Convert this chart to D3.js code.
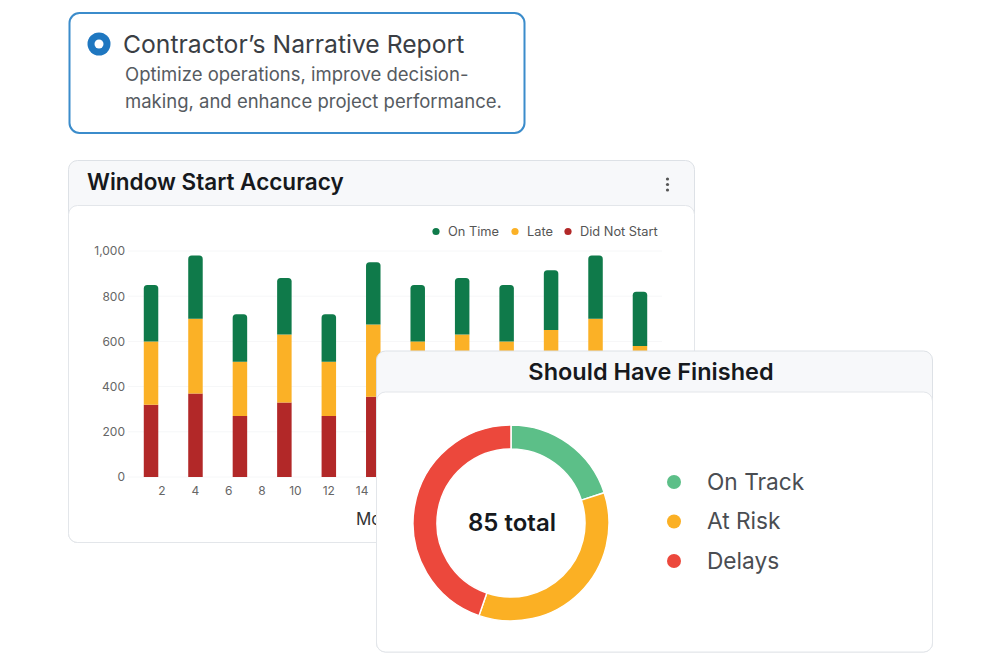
<!DOCTYPE html>
<html>
<head>
<meta charset="utf-8">
<script src="https://cdn.jsdelivr.net/npm/d3@7"></script>
<style>
  body { margin: 0; background: #fff; font-family: Inter, "Noto Sans", sans-serif; }
</style>
</head>
<body>
<div id="chart"></div>
<script>
// bar chart data (stacked, bottom to top: did not start, late, on time)
const months = [1, 2, 3, 4, 5, 6, 7, 8, 9, 10, 11, 12];
const didNotStart = [320, 370, 270, 330, 270, 355, 320, 330, 320, 345, 370, 310];
const late = [280, 330, 240, 300, 240, 320, 280, 300, 280, 305, 330, 270];
const onTime = [250, 280, 210, 250, 210, 275, 250, 250, 250, 265, 280, 240];
const seriesNames = ["Did Not Start", "Late", "On Time"];
const legendOrder = ["On Time", "Late", "Did Not Start"];
const yTicks = [0, 200, 400, 600, 800, 1000];
const xTicks = [2, 4, 6, 8, 10, 12, 14, 16, 18, 20, 22, 24, 26, 28, 30];

// donut data
const statusLabels = ["On Track", "At Risk", "Delays"];
const statusCounts = [17, 30, 38];

const barColors = { "On Time": "#0f7a4a", "Late": "#fbb126", "Did Not Start": "#b22828" };
const donutColors = ["#5cbf88", "#fbb024", "#ec483c"];

const width = 1000, height = 666;

const svg = d3.select("#chart")
  .append("svg")
  .attr("width", width)
  .attr("height", height)
  .style("display", "block");

svg.append("rect").attr("width", width).attr("height", height).attr("fill", "#fff");

// rect with only the top corners rounded
const topRounded = (x, y, w, h, r) => {
  r = Math.min(r, h, w / 2);
  return `M${x},${y + h}V${y + r}Q${x},${y} ${x + r},${y}H${x + w - r}Q${x + w},${y} ${x + w},${y + r}V${y + h}Z`;
};

// card with grey header + white body
function drawCard(x, y, w, h, headerH) {
  const g = svg.append("g");
  g.append("rect")
    .attr("x", x).attr("y", y).attr("width", w).attr("height", h)
    .attr("rx", 9)
    .attr("fill", "#f7f8fa")
    .attr("stroke", "#dde1e6");
  g.append("rect")
    .attr("x", x).attr("y", y + headerH).attr("width", w).attr("height", h - headerH)
    .attr("rx", 9)
    .attr("fill", "#fff")
    .attr("stroke", "#e3e6ea");
  return g;
}

// ---------- Window Start Accuracy ----------
const barCard = drawCard(68.5, 160.5, 626, 382, 45);

barCard.append("text")
  .attr("x", 87).attr("y", 190)
  .attr("font-size", 22.5).attr("font-weight", 600)
  .attr("fill", "#16191d")
  .text("Window Start Accuracy");

// kebab menu
barCard.selectAll(".kebab")
  .data([179, 184.5, 190])
  .join("circle")
  .attr("class", "kebab")
  .attr("cx", 667.5).attr("cy", (d) => d)
  .attr("r", 1.6)
  .attr("fill", "#555");

const y = d3.scaleLinear().domain([0, 1000]).range([477, 251]);
const xBand = d3.scaleBand().domain(months).range([128.8, 662.2])
  .paddingInner(0.674).paddingOuter(0.337);
const xLin = d3.scaleLinear().domain([0, 32]).range([128, 662]);

// grid
barCard.append("g")
  .selectAll("line")
  .data(yTicks)
  .join("line")
  .attr("x1", 128).attr("x2", 662)
  .attr("y1", (d) => y(d)).attr("y2", (d) => y(d))
  .attr("stroke", "#f6f7f8");

// y axis
const yAxis = barCard.append("g")
  .attr("transform", "translate(128,0)")
  .call(d3.axisLeft(y).tickValues(yTicks).tickFormat(d3.format(",")).tickSize(0).tickPadding(3));
yAxis.select(".domain").remove();
yAxis.selectAll("text").attr("font-size", 12).attr("fill", "#666").attr("font-family", "Inter, sans-serif");

// x axis
const xAxis = barCard.append("g")
  .attr("transform", "translate(0,484)")
  .call(d3.axisBottom(xLin).tickValues(xTicks).tickSize(0).tickPadding(2));
xAxis.select(".domain").remove();
xAxis.selectAll("text").attr("font-size", 12).attr("fill", "#666").attr("font-family", "Inter, sans-serif");

barCard.append("text")
  .attr("x", 356).attr("y", 525)
  .attr("font-size", 17).attr("fill", "#333")
  .text("Month");

// stacked bars
const table = months.map((m, i) => ({
  month: m,
  "Did Not Start": didNotStart[i],
  "Late": late[i],
  "On Time": onTime[i],
}));
const stacked = d3.stack().keys(seriesNames)(table);

stacked.forEach((layer, li) => {
  const isTop = li === stacked.length - 1;
  barCard.append("g")
    .selectAll("path")
    .data(layer)
    .join("path")
    .attr("fill", barColors[layer.key])
    .attr("d", (d) => {
      const x0 = xBand(d.data.month);
      const y0 = y(d[1]);
      const h = y(d[0]) - y(d[1]);
      return isTop
        ? topRounded(x0, y0, xBand.bandwidth(), h, 3.5)
        : `M${x0},${y0}h${xBand.bandwidth()}v${h}h${-xBand.bandwidth()}Z`;
    });
});

// legend
const legendX = [436, 515, 568];
const legend = barCard.append("g")
  .selectAll("g")
  .data(legendOrder)
  .join("g")
  .attr("transform", (d, i) => `translate(${legendX[i]},231.5)`);
legend.append("circle").attr("r", 3.6).attr("fill", (d) => barColors[d]);
legend.append("text")
  .attr("x", 12).attr("dy", "0.35em")
  .attr("font-size", 12.8).attr("fill", "#555")
  .text((d) => d);

// ---------- Should Have Finished ----------
const donutCard = drawCard(376.5, 351, 556, 301, 41);

donutCard.append("text")
  .attr("x", 651).attr("y", 379.5)
  .attr("text-anchor", "middle")
  .attr("font-size", 23.5).attr("font-weight", 600)
  .attr("fill", "#16191d")
  .text("Should Have Finished");

const pie = d3.pie().sort(null).value((d) => d);
const arc = d3.arc().innerRadius(74).outerRadius(98);

const donut = donutCard.append("g").attr("transform", "translate(511,523)");
donut.selectAll("path")
  .data(pie(statusCounts))
  .join("path")
  .attr("d", arc)
  .attr("fill", (d, i) => donutColors[i])
  .attr("stroke", "#fff")
  .attr("stroke-width", 1.5);

donut.append("text")
  .attr("x", 1)
  .attr("text-anchor", "middle").attr("dy", "0.35em")
  .attr("font-size", 24).attr("font-weight", 600)
  .attr("fill", "#16191d")
  .text(`${d3.sum(statusCounts)} total`);

const dLegend = donutCard.append("g")
  .selectAll("g")
  .data(statusLabels)
  .join("g")
  .attr("transform", (d, i) => `translate(674,${482 + i * 39.5})`);
dLegend.append("circle").attr("r", 7).attr("fill", (d, i) => donutColors[i]);
dLegend.append("text")
  .attr("x", 33).attr("dy", "0.35em")
  .attr("font-size", 22.7).attr("fill", "#4a4d52")
  .text((d) => d);

// ---------- Contractor's Narrative Report ----------
const reportCard = svg.append("g");
reportCard.append("rect")
  .attr("x", 69.5).attr("y", 13).attr("width", 455).attr("height", 120)
  .attr("rx", 10)
  .attr("fill", "#fff")
  .attr("stroke", "#3b8ccb")
  .attr("stroke-width", 2);
reportCard.append("circle").attr("cx", 99).attr("cy", 44).attr("r", 11.5).attr("fill", "#1f77c0");
reportCard.append("circle").attr("cx", 99).attr("cy", 44).attr("r", 4.5).attr("fill", "#fff");
reportCard.append("text")
  .attr("x", 123).attr("y", 53)
  .attr("font-size", 24.7).attr("fill", "#3a3e44")
  .text("Contractor’s Narrative Report");
reportCard.append("text")
  .attr("x", 125).attr("y", 81)
  .attr("font-size", 18.5).attr("fill", "#565b61")
  .text("Optimize operations, improve decision-");
reportCard.append("text")
  .attr("x", 125).attr("y", 108)
  .attr("font-size", 18.5).attr("fill", "#565b61")
  .text("making, and enhance project performance.");
</script>
</body>
</html>
